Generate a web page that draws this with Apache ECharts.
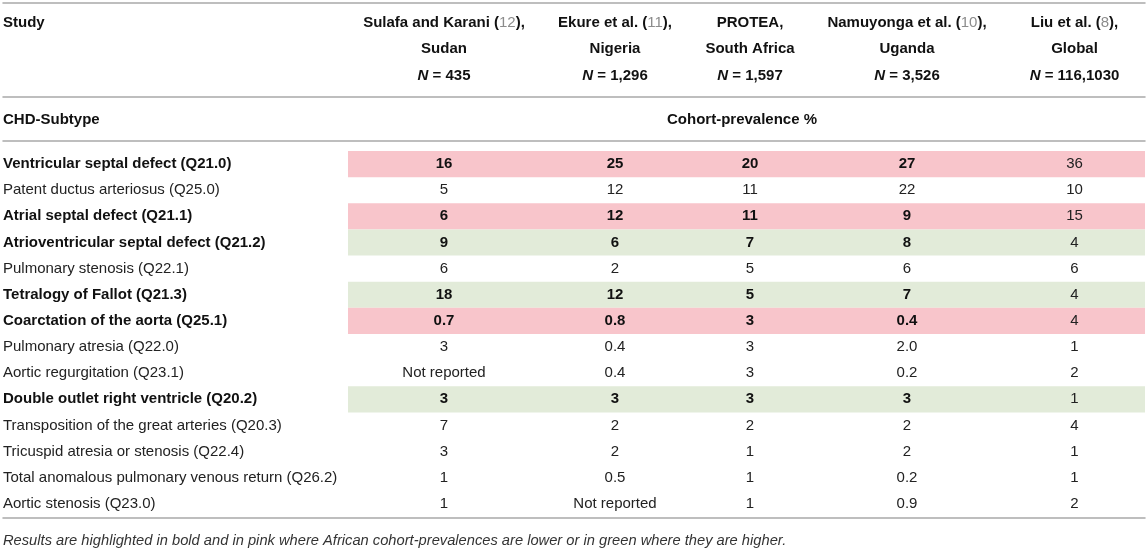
<!DOCTYPE html>
<html>
<head>
<meta charset="utf-8">
<script src="https://cdn.jsdelivr.net/npm/echarts@6/dist/echarts.min.js"></script>
<style>
html, body { margin: 0; padding: 0; background: #fff; }
#chart { width: 1147px; height: 555px; }
</style>
</head>
<body>
<div id="chart"></div>
<script>
// rows of the table
var subtypes = [
    'Ventricular septal defect (Q21.0)',
    'Patent ductus arteriosus (Q25.0)',
    'Atrial septal defect (Q21.1)',
    'Atrioventricular septal defect (Q21.2)',
    'Pulmonary stenosis (Q22.1)',
    'Tetralogy of Fallot (Q21.3)',
    'Coarctation of the aorta (Q25.1)',
    'Pulmonary atresia (Q22.0)',
    'Aortic regurgitation (Q23.1)',
    'Double outlet right ventricle (Q20.2)',
    'Transposition of the great arteries (Q20.3)',
    'Tricuspid atresia or stenosis (Q22.4)',
    'Total anomalous pulmonary venous return (Q26.2)',
    'Aortic stenosis (Q23.0)'
];
// cohort-prevalence % per study
var sulafa    = ['16', '5', '6', '9', '6', '18', '0.7', '3', 'Not reported', '3', '7', '3', '1', '1'];
var ekure     = ['25', '12', '12', '6', '2', '12', '0.8', '0.4', '0.4', '3', '2', '2', '0.5', 'Not reported'];
var protea    = ['20', '11', '11', '7', '5', '5', '3', '3', '3', '3', '2', '1', '1', '1'];
var namuyonga = ['27', '22', '9', '8', '6', '7', '0.4', '2.0', '0.2', '3', '2', '2', '0.2', '0.9'];
var liu       = ['36', '10', '15', '4', '6', '4', '4', '1', '2', '1', '4', '1', '1', '2'];
// pink = lower, green = higher
var highlight = ['lower', '', 'lower', 'higher', '', 'higher', 'lower', '', '', 'higher', '', '', '', ''];

var studyNames  = ['Sulafa and Karani', 'Ekure et al.', 'PROTEA', 'Namuyonga et al.', 'Liu et al.'];
var studyRefs   = ['12', '11', '', '10', '8'];
var studyPlaces = ['Sudan', 'Nigeria', 'South Africa', 'Uganda', 'Global'];
var studyN      = ['435', '1,296', '1,597', '3,526', '116,1030'];

var columns = [sulafa, ekure, protea, namuyonga, liu];

// layout: column widths in px (first = label column)
var colWidths = [345, 192, 150, 120, 194, 141];
var colStart = [], acc = 0;
colWidths.forEach(function (w) { colStart.push(acc); acc += w; });
var totalW = acc;
var centers = [];
for (var c = 1; c < colWidths.length; c++) centers.push(colStart[c] + colWidths[c] / 2);

var FONT = '"Liberation Sans", Arial, sans-serif';
var bandColor = { lower: '#f8c5cb', higher: '#e2ebd9' };

var cells = [];
for (var r = 0; r < subtypes.length; r++) {
    for (var k = 1; k < colWidths.length; k++) cells.push([k, r]);
}

var chart = echarts.init(document.getElementById('chart'));

var ruleStyle = { show: true, lineStyle: { color: '#a9a9a9', width: 1.5 } };
function ruleAxis(pos, off) {
    return {
        type: 'value', min: 0, max: totalW, position: pos, offset: off,
        axisLine: ruleStyle, axisTick: { show: false },
        axisLabel: { show: false }, splitLine: { show: false }
    };
}

var hdr = { fontFamily: FONT, fontSize: 15, fontWeight: 'bold', color: '#111', lineHeight: 26.5 };

var option = {
    animation: false,
    backgroundColor: '#fff',
    textStyle: { fontFamily: FONT },
    title: [
        { text: 'Study', left: 3, top: 14, padding: 0,
          textStyle: { fontFamily: FONT, fontSize: 15, fontWeight: 'bold', color: '#111', lineHeight: 18 } },
        { text: 'CHD-Subtype', left: 3, top: 111, padding: 0,
          textStyle: { fontFamily: FONT, fontSize: 15, fontWeight: 'bold', color: '#111', lineHeight: 18 } },
        { text: 'Cohort-prevalence %', left: 742, textAlign: 'center', top: 111, padding: 0,
          textStyle: { fontFamily: FONT, fontSize: 15, fontWeight: 'bold', color: '#111', lineHeight: 18 } },
        { text: 'Results are highlighted in bold and in pink where African cohort-prevalences are lower or in green where they are higher.',
          left: 3, top: 532, padding: 0,
          textStyle: { fontFamily: FONT, fontSize: 14.7, fontStyle: 'italic', fontWeight: 'normal', color: '#333', lineHeight: 18 } }
    ],
    grid: { left: 3, right: 2, top: 151, bottom: 38 },
    xAxis: [
        {
            type: 'value', min: 0, max: totalW, position: 'top', offset: 10,
            axisLine: ruleStyle, axisTick: { show: false }, splitLine: { show: false },
            axisLabel: {
                customValues: centers,
                margin: 52,
                formatter: function (v, i) {
                    var idx = centers.indexOf(v);
                    if (idx < 0) idx = i;
                    var first = studyRefs[idx]
                        ? '{b|' + studyNames[idx] + ' (}{g|' + studyRefs[idx] + '}{b|),}'
                        : '{b|' + studyNames[idx] + ',}';
                    return first + '\n{b|' + studyPlaces[idx] + '}\n{i|N}{b| = ' + studyN[idx] + '}';
                },
                rich: {
                    b: hdr,
                    g: { fontFamily: FONT, fontSize: 15, fontWeight: 'normal', color: '#8c8c8c', lineHeight: 26.5 },
                    i: { fontFamily: FONT, fontSize: 15, fontWeight: 'bold', fontStyle: 'italic', color: '#111', lineHeight: 26.5 }
                }
            }
        },
        ruleAxis('top', 54),
        ruleAxis('top', 148),
        ruleAxis('bottom', 1)
    ],
    yAxis: {
        type: 'category', inverse: true, data: subtypes,
        axisLine: { show: false }, axisTick: { show: false }, splitLine: { show: false },
        axisLabel: {
            inside: true, margin: 0, interval: 0,
            formatter: function (v, i) {
                return (highlight[i] ? '{b|' : '{r|') + v + '}';
            },
            rich: {
                b: { fontFamily: FONT, fontSize: 15, fontWeight: 'bold', color: '#111' },
                r: { fontFamily: FONT, fontSize: 15, fontWeight: 'normal', color: '#222' }
            }
        },
        z: 5
    },
    series: [{
        type: 'custom',
        xAxisIndex: 0,
        data: cells,
        renderItem: function (params, api) {
            var col = api.value(0), row = api.value(1);
            var p = api.coord([colStart[col], row]);
            var w = api.size([colWidths[col], 0])[0];
            var h = api.size([0, 1])[1];
            var kids = [];
            var hl = highlight[row];
            if (hl) {
                kids.push({
                    type: 'rect',
                    shape: { x: p[0], y: p[1] - h / 2, width: w, height: h },
                    style: { fill: bandColor[hl] }
                });
            }
            var bold = hl && col < 5;
            kids.push({
                type: 'text',
                style: {
                    text: columns[col - 1][row],
                    x: p[0] + w / 2, y: p[1],
                    align: 'center', verticalAlign: 'middle',
                    fontFamily: FONT, fontSize: 15,
                    fontWeight: bold ? 'bold' : 'normal',
                    fill: bold ? '#111' : '#222'
                }
            });
            return { type: 'group', children: kids };
        }
    }]
};

chart.setOption(option);
</script>
</body>
</html>
